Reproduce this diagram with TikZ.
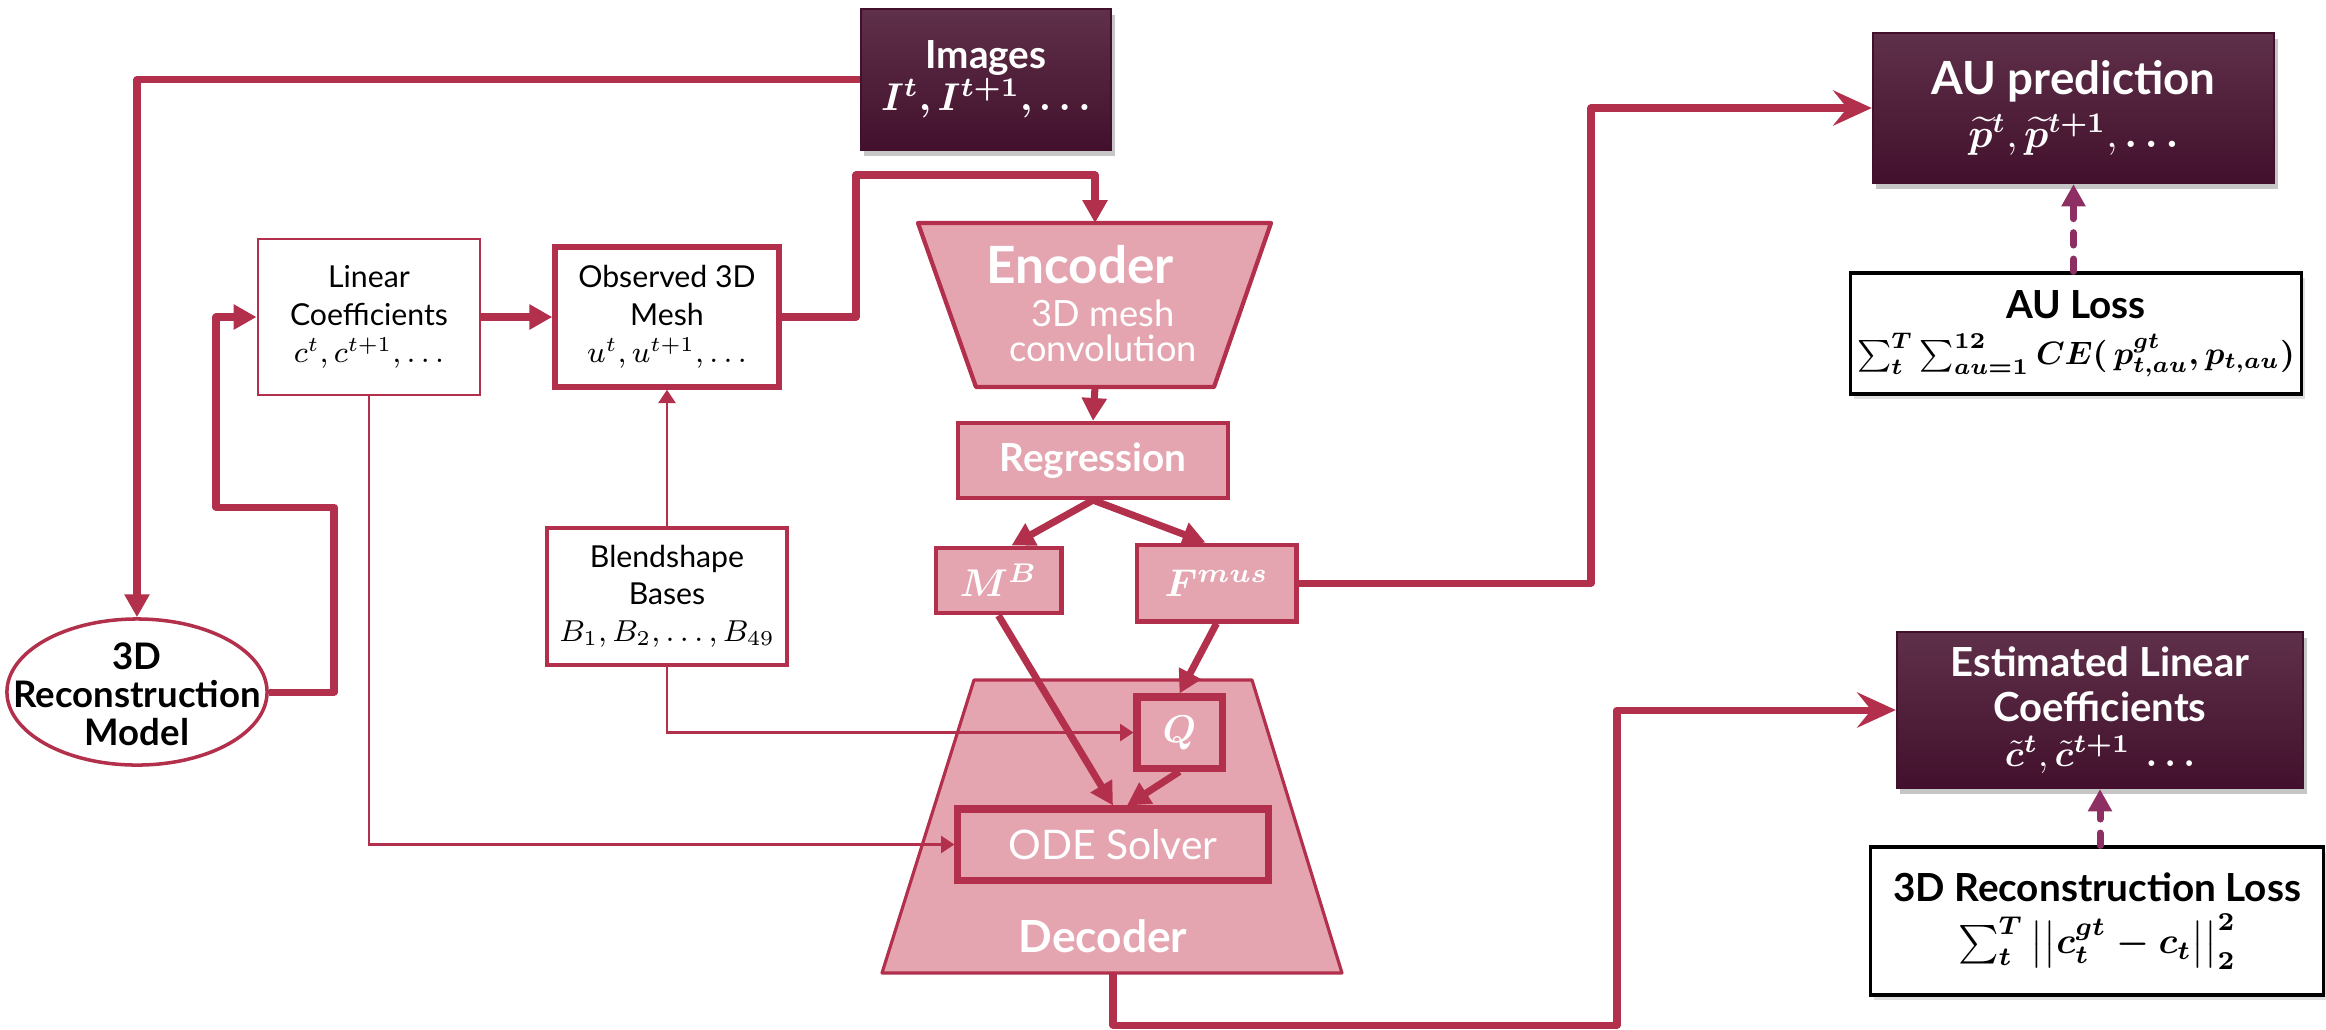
\RequirePackage{fix-cm}
\documentclass[tikz,border=0pt]{standalone}
\usepackage{amsmath}
\usepackage{bm}
\usepackage{fontspec}
\setmainfont{Lato}
\usetikzlibrary{arrows.meta,shadows,calc,shapes.geometric}
\definecolor{crim}{HTML}{B2304B}
\definecolor{pinkf}{HTML}{E5A5B0}
\definecolor{dtop}{HTML}{5F3049}
\definecolor{dbot}{HTML}{42102C}
\definecolor{purp}{HTML}{8E2F64}
\tikzset{
  whitebox/.style={rectangle, draw=crim, fill=white, align=center, inner sep=0pt, font=\fontsize{8.6}{10.6}\selectfont},
  pinkbox/.style={rectangle, draw=crim, fill=pinkf, align=center, inner sep=0pt, text=white},
  darkbox/.style={rectangle, draw=dbot, line width=0.6pt, top color=dtop, bottom color=dbot, align=center, inner sep=0pt, text=white,
     drop shadow={opacity=0.45, shadow xshift=1pt, shadow yshift=-1.6pt}},
  lossbox/.style={rectangle, draw=black, line width=0.9pt, fill=white, align=center, inner sep=0pt,
     drop shadow={opacity=0.25, shadow xshift=1pt, shadow yshift=-1.4pt}},
  conn/.style={draw=crim, line width=2pt, line join=round, -{Triangle[length=6.5pt,width=6.8pt]}},
  connbig/.style={draw=crim, line width=2pt, line join=round, -{Stealth[length=11pt,width=10pt,inset=4pt]}},
  thinconn/.style={draw=crim, line width=0.8pt, -{Triangle[length=3.8pt,width=4.8pt]}},
  lossarrow/.style={draw=purp, line width=2pt, dash pattern=on 3.5pt off 4pt, line cap=round, -{Triangle[length=6.3pt,width=6.5pt]}},
  trap/.style={draw=crim, fill=pinkf, line join=round},
}
\begin{document}
\begin{tikzpicture}[x=0.01cm, y=-0.01cm]
\useasboundingbox (0,0) rectangle (2326,1029);

% trapezoids
\path[trap, line width=1.2pt] (918,223) -- (1271,223) -- (1214,387) -- (976,387) -- cycle;
\path[trap, line width=0.9pt] (974,680) -- (1252,680) -- (1342,973) -- (882,973) -- cycle;
\coordinate (enctop) at (1095,223);
\coordinate (encbot) at (1095,387);
\coordinate (decbot) at (1113,973);
\node[text=white, font=\fontsize{14.6}{16}\selectfont\bfseries] (enclbl) at (1080,265) {Encoder};
\node[text=white, align=center, font=\fontsize{10.3}{10}\selectfont] (encsub) at (1103,331) {3D mesh\\convolution};
\node[text=white, font=\fontsize{12.6}{14}\selectfont\bfseries] (declbl) at (1103,936) {Decoder};

% dark boxes
\node[darkbox, minimum width=2.50cm, minimum height=1.41cm, font=\fontsize{11}{12}\selectfont\bfseries] (img) at (986,79.5)
  {Images\\ $\bm{I^t, I^{t+1}, \ldots}$};
\node[darkbox, minimum width=4.01cm, minimum height=1.50cm, font=\fontsize{13}{15}\selectfont\bfseries] (aup) at (2073.5,108)
  {AU prediction\\ {\fontsize{11.5}{13}\selectfont$\widetilde{\bm p}^{\bm t}, \widetilde{\bm p}^{\bm{t+1}}, \bm{\ldots}$}};
\node[darkbox, minimum width=4.06cm, minimum height=1.56cm, font=\fontsize{11.4}{12.8}\selectfont\bfseries] (est) at (2100,710)
  {Estimated Linear\\ Coefficients\\ {\fontsize{10.5}{12}\selectfont$\tilde{\bm c}^{\bm t}, \tilde{\bm c}^{\bm{t+1}}\ \bm{\ldots}$}};

% loss boxes
\node[lossbox, minimum width=4.50cm, minimum height=1.21cm, font=\fontsize{11}{13}\selectfont\bfseries\boldmath] (auloss) at (2076,333.5)
  {AU Loss\\ {\fontsize{9.2}{11}\selectfont$\textstyle\sum_t^T \sum_{au=1}^{12} CE(\,p_{t,au}^{gt}, p_{t,au})$}};
\node[lossbox, minimum width=4.52cm, minimum height=1.48cm, font=\fontsize{11}{15}\selectfont\bfseries\boldmath] (recloss) at (2097,921)
  {3D Reconstruction Loss\\ {\fontsize{10.5}{12}\selectfont$\textstyle\sum_t^T \big|\big| c_t^{gt} - c_t \big|\big|_2^2$}};

% white boxes
\node[whitebox, line width=0.8pt, minimum width=2.22cm, minimum height=1.56cm] (lin) at (369,317)
  {Linear\\ Coefficients\\ $c^t, c^{t+1}, \ldots$};
\node[whitebox, line width=1.5pt, minimum width=2.24cm, minimum height=1.40cm] (obs) at (667,317)
  {Observed 3D\\ Mesh\\ $u^t, u^{t+1}, \ldots$};
\node[whitebox, line width=1.2pt, minimum width=2.40cm, minimum height=1.37cm] (blend) at (667,596.5)
  {Blendshape\\ Bases\\ $B_1, B_2, \ldots, B_{49}$};
\node[ellipse, draw=crim, fill=white, line width=1pt, minimum width=2.60cm, minimum height=1.46cm, inner sep=0pt] (ell) at (137,692) {};
\node[align=center, inner sep=0pt, font=\fontsize{10.4}{10.8}\selectfont\bfseries] (elltxt) at (137,694)
  {3D\\ Reconstruction\\ Model};

% pink boxes
\node[pinkbox, line width=1.2pt, minimum width=2.70cm, minimum height=0.75cm, font=\fontsize{11}{12}\selectfont\bfseries] (reg) at (1093,460.5) {Regression};
\node[pinkbox, line width=1.4pt, minimum width=1.25cm, minimum height=0.65cm, font=\fontsize{11}{12}\selectfont] (mb) at (998.5,580.5) {$\bm{M^B}$};
\node[pinkbox, line width=1.4pt, minimum width=1.59cm, minimum height=0.76cm, font=\fontsize{11}{12}\selectfont] (fmus) at (1216.5,583) {$\bm{F^{mus}}$};
\node[pinkbox, line width=2pt, minimum width=0.85cm, minimum height=0.71cm, font=\fontsize{11}{12}\selectfont] (q) at (1179.5,732.5) {$\bm{Q}$};
\node[pinkbox, line width=2pt, minimum width=3.10cm, minimum height=0.71cm, font=\fontsize{11.6}{13}\selectfont] (ode) at (1113,844.5) {ODE Solver};

% coordinates for bends
\coordinate (lp1) at (334,507);
\coordinate (lp2) at (216,507);
\coordinate (op) at (856,175);
\coordinate (fp) at (1591,108);
\coordinate (db2) at (1617,1025);

% connectors
\draw[conn] (img.west) -| (ell.north);
\draw[conn] (ell.east) -| (lp1) -- (lp2) |- (lin.west);
\draw[conn] (lin.east) -- (obs.west);
\draw[conn] (obs.east) -| (op) -| (enctop);
\draw[conn] (encbot) -- (reg.north);
\draw[conn] (reg.south) -- ($(mb.north)+(13,0)$);
\draw[conn] (reg.south) -- ($(fmus.north)+(-11,0)$);
\draw[connbig] (fmus.east) -| (fp) |- (aup.west);
\draw[conn] (mb.south) -- (ode.north);
\draw[conn] (fmus.south) -- (q.north);
\draw[conn] (q.south) -- ($(ode.north)+(14,0)$);
\draw[connbig] (decbot) |- (db2) |- (est.west);
\draw[thinconn] (blend.north) -- (obs.south);
\draw[thinconn] (blend.south) |- (q.west);
\draw[thinconn] (lin.south) |- (ode.west);
\draw[lossarrow] (aup.south |- auloss.north) -- (aup.south);
\draw[lossarrow] (est.south |- recloss.north) -- (est.south);
\end{tikzpicture}
\end{document}
